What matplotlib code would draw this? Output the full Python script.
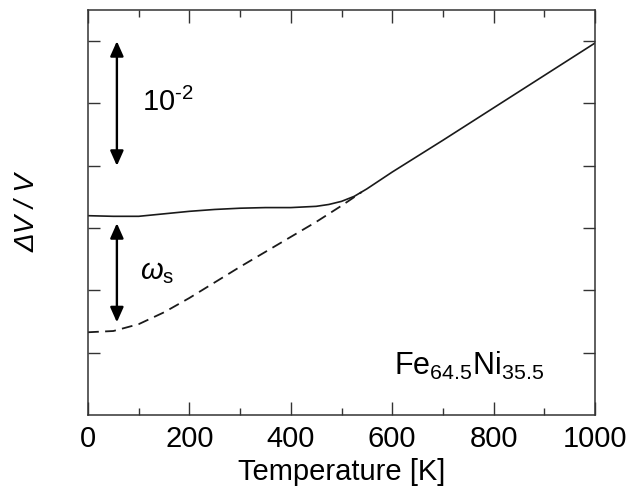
import matplotlib
matplotlib.use("Agg")
import matplotlib.pyplot as plt
from matplotlib.ticker import MultipleLocator

# values (y in units of one tick spacing = 0.5e-2)
T_solid = [0, 50, 100, 150, 200, 250, 300, 350, 400, 450, 475, 500, 525, 550, 600, 700, 800, 900, 1000]
dv_solid = [2.20, 2.19, 2.19, 2.23, 2.27, 2.30, 2.32, 2.33, 2.33, 2.35, 2.38, 2.43, 2.51, 2.63, 2.90, 3.41,
            3.93, 4.45, 4.97]
T_dash = [0, 50, 100, 150, 200, 250, 300, 350, 400, 450, 500, 540]
dv_dash = [0.33, 0.35, 0.46, 0.65, 0.88, 1.13, 1.38, 1.62, 1.86, 2.10, 2.36, 2.58]
x_ticks = [0, 200, 400, 600, 800, 1000]
y_ticks = [0, 1, 2, 3, 4, 5]
arrow_up = (57, 5.0, 3.0)      # x, y_top, y_bottom  (10^-2 span)
arrow_ws = (57, 2.08, 0.49)    # omega_s span

plt.rcParams.update({"font.family": "Liberation Sans", "font.size": 21,
                     "mathtext.fontset": "custom", "mathtext.rm": "Liberation Sans",
                     "mathtext.it": "Liberation Sans:italic", "mathtext.bf": "Liberation Sans:bold"})

fig = plt.figure(figsize=(6.33, 4.99), dpi=100)
ax = fig.add_axes([0.139, 0.168, 0.801, 0.812])

ink = "#1a1a1a"
ax.plot(T_solid, dv_solid, color=ink, lw=1.2)
ax.plot(T_dash, dv_dash, color=ink, lw=1.3, linestyle=(0, (6, 3.5)))

for xa, y0, y1 in (arrow_up, arrow_ws):
    ax.annotate("", xy=(xa, y1), xytext=(xa, y0),
                arrowprops=dict(arrowstyle="<|-|>,head_length=0.45,head_width=0.2", mutation_scale=20,
                                lw=1.7, color="black", shrinkA=0, shrinkB=0))

ax.text(106, 3.88, r"10$^{\text{-2}}$", fontsize=21, ha="left", va="baseline")
ax.text(103, 1.30, r"$\omega_{\mathrm{s}}$", fontsize=21, ha="left", va="center")
ax.text(604, -0.36, r"Fe$_{64.5}$Ni$_{35.5}$", fontsize=22, ha="left", va="baseline")

ax.set_xlim(0, 1000)
ax.set_ylim(-1, 5.5)
ax.set_xticks(x_ticks)
ax.xaxis.set_minor_locator(MultipleLocator(100))
ax.set_yticks(y_ticks)
ax.set_yticklabels([])
ax.tick_params(axis="both", which="both", direction="in", top=True, right=True, color="#333333")
ax.tick_params(axis="x", which="major", length=9.5, width=1.0, pad=7, labelsize=21)
ax.tick_params(axis="x", which="minor", length=5, width=1.0)
ax.tick_params(axis="y", which="major", length=8.5, width=1.0)
for s in ax.spines.values():
    s.set_color("#333333")
    s.set_linewidth(1.1)

ax.set_xlabel("Temperature [K]", fontsize=21, labelpad=4)
fig.text(0.043, 0.575, "ΔV / V", fontsize=20, style="italic", rotation=90, ha="center", va="center")

fig.savefig("out.png", dpi=100)
